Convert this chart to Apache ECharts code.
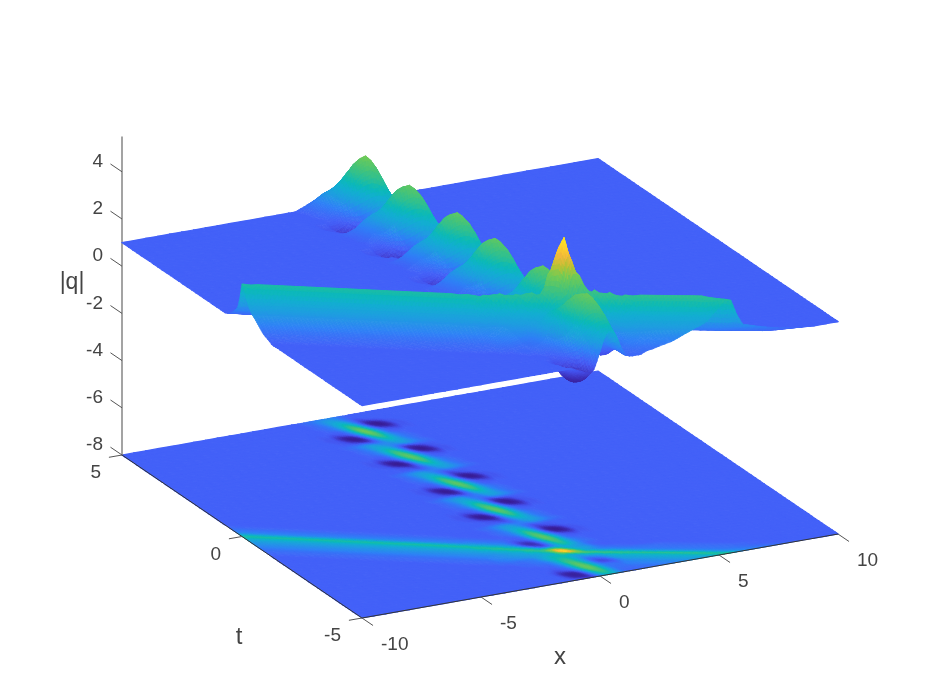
<!DOCTYPE html>
<html>
<head>
<meta charset="utf-8">
<style>html,body{margin:0;padding:0;background:#fff}#c{width:926px;height:695px}</style>
<script src="https://cdn.jsdelivr.net/npm/echarts@6/dist/echarts.min.js"></script>
</head>
<body>
<div id="c"></div>
<script>
// sample positions of the surface
const xValues = [-10,-9.5,-9,-8.5,-8,-7.5,-7,-6.5,-6,-5.5,-5,-4.5,-4,-3.5,-3,-2.75,-2.5,-2.25,-2,-1.75,-1.5,-1.25,-1,-0.75,-0.5,-0.25,0,0.25,0.5,0.75,1,1.25,1.5,1.75,2,2.5,3,3.5,4,4.5,5,5.5,6,7,8,9,10];
const tValues = [5,4.9,4.725,4.55,4.375,4.2,4.025,3.85,3.675,3.5,3.325,3.15,2.975,2.8,2.625,2.45,2.275,2.1,1.925,1.75,1.575,1.4,1.225,1.05,0.875,0.7,0.525,0.35,0.175,0,-0.175,-0.35,-0.525,-0.7,-0.875,-1.05,-1.225,-1.4,-1.575,-1.75,-1.925,-2.1,-2.275,-2.45,-2.625,-2.8,-2.975,-3.15,-3.325,-3.5,-3.64,-3.78,-3.92,-4.06,-4.2,-4.34,-4.48,-4.62,-4.76,-4.9,-5];
// |q|, in tenths. The flat plane is qPlane; each row lists runs [first column, values...] that differ from it.
const qPlane = 10;
const qRows = [
[[16,11,12,13,14,15,15,13,11]],
[[16,11,12,14,16,17,16,13,11]],
[[16,10,11,13,16,19,20,16,12,9]],
[[16,10,11,12,14,19,24,23,15,8,6,8,9]],
[[16,10,10,11,13,17,25,30,22,11,3,1,4,8,9]],
[[16,10,10,10,10,13,22,33,32,19,9,3,2,5,9,9]],
[[16,9,9,7,8,10,16,29,37,29,16,10,8,7,9,9]],
[[16,9,9,5,2,3,9,19,32,33,22,13]],
[[16,10,9,8,4,1,3,11,22,30,25,17,13,11]],
[[16,10,10,10,9,8,6,8,15,23,24,19,14,12,11]],
[[17,11,12,14,16,17,15,15,17,20,19,16,13,11]],
[[18,11,13,16,19,20,17,15,15,17,16,14,12,11]],
[[17,10,11,12,14,19,24,23,15,8,6,8,9]],
[[17,10,10,11,13,17,25,30,22,11,3,1,4,8,9]],
[[17,10,10,10,10,13,22,32,31,19,9,3,2,5,9,9]],
[[17,9,9,7,8,10,16,28,35,28,16,10,8,7,9,9]],
[[17,9,9,5,2,3,9,19,31,32,22,13]],
[[17,10,9,8,4,1,3,11,22,30,25,17,13,11]],
[[17,10,10,10,9,8,6,8,15,23,24,19,14,12,11]],
[[17,10,10,10,10,10,10,9,12,16,20,19,16,13,11]],
[[18,11,12,14,16,17,16,14,14,16,17,16,14,12,11]],
[[18,10,11,13,16,19,20,16,12,9]],
[[18,10,11,12,14,19,24,23,15,8,6,8,9]],
[[18,10,10,11,13,17,25,30,22,11,3,1,4,8,9]],
[[18,10,10,10,10,13,22,32,31,19,9,3,2,5,9,9]],
[[18,9,9,7,8,10,16,28,35,28,16,10,8,7,9,9]],
[[0,11],[18,9,9,5,2,3,9,19,31,32,22,13]],
[[0,13,11],[18,10,9,8,4,1,3,11,22,30,25,17,13,11]],
[[0,16,13,11],[18,10,10,10,9,8,6,8,15,23,24,19,14,12,11]],
[[0,27,16,13,11],[18,11,12,14,16,17,16,12,13,16,20,19,16,13,11]],
[[0,22,27,16,13,11],[19,11,13,16,19,20,16,13,12,16,17,16,14,12,11]],
[[0,18,22,27,16,13,11],[18,10,11,12,14,19,24,23,15,8,6,8,9]],
[[0,16,18,22,27,16,13,11],[18,10,10,11,13,17,25,30,22,11,3,1,4,8,9]],
[[0,14,16,18,22,27,16,13,11],[18,10,10,10,10,13,22,32,31,19,9,3,2,5,9,9]],
[[0,12,14,16,18,22,27,16,13,11],[18,9,9,7,8,10,16,28,35,28,16,10,8,7,9,9]],
[[0,11,12,14,16,18,22,27,16,13,11],[18,9,9,5,2,3,9,19,31,32,22,13]],
[[1,11,12,14,16,18,22,27,16,13,11],[18,10,9,8,4,1,3,11,22,30,25,17,13,11]],
[[2,11,12,14,16,18,22,27,16,13,11],[18,10,10,10,9,8,6,8,15,23,24,19,14,12,11]],
[[3,11,12,14,16,18,22,27,16,13,11],[18,10,10,10,10,10,10,9,12,16,20,19,16,13,11]],
[[4,11,12,14,16,18,22,27,16,13,11],[19,11,12,14,16,17,16,14,14,16,17,16,14,12,11]],
[[5,11,12,14,16,18,22,27,16,13,11],[19,10,11,13,16,19,20,16,12,9]],
[[6,11,12,14,16,18,22,27,16,13,12,11],[19,10,11,12,14,19,24,23,15,8,6,8,9]],
[[7,11,12,14,16,18,22,27,16,15,13,12,11],[19,10,10,11,13,17,25,30,22,11,3,1,4,8,9]],
[[8,11,12,14,16,18,22,27,21,17,15,13,12,11,10,10,13,22,32,31,19,9,3,2,5,9,9]],
[[9,11,12,14,16,18,22,27,27,21,17,15,12,9,9,10,16,28,35,28,16,10,8,7,9,9]],
[[10,11,12,14,16,18,21,23,28,28,21,16,10,5,5,10,19,31,32,22,13]],
[[11,11,12,14,16,17,18,21,23,28,28,20,11,6,6,13,23,30,25,17,13,11]],
[[12,11,12,14,15,16,17,19,21,23,29,29,20,13,13,18,25,25,19,14,12,11]],
[[13,11,12,14,15,16,17,18,19,22,24,29,37,41,33,22,20,17,15,11]],
[[14,11,12,13,14,15,16,17,18,20,22,25,40,53,40,26,20,18,14,11]],
[[15,11,11,12,12,13,14,17,21,24,24,28,30,38,37,24,18,15,13,12,11]],
[[17,11,11,12,13,15,20,24,26,25,22,20,26,31,31,23,17,15,13,11]],
[[18,11,11,12,13,16,23,28,28,22,17,17,19,22,30,30,23,17,13,12,11]],
[[20,11,11,14,20,29,31,24,16,11,13,16,20,23,29,29,17,13,12,11]],
[[22,12,16,26,34,29,19,10,8,10,16,20,21,23,29,17,13,12,11]],
[[21,9,10,13,22,33,34,24,14,8,8,11,16,19,20,23,29,17,13,12,11]],
[[20,9,7,8,10,16,29,36,30,18,13,12,11,14,16,17,20,23,29,17,13,12,11]],
[[20,9,5,3,4,10,21,33,32,22,14,12,12,14,14,15,17,20,23,29,17,13,12,11]],
[[21,7,3,2,5,14,25,31,25,16,12,12,12,13,14,15,17,20,23,29,17,13,12]],
[[21,9,6,4,4,10,19,27,25,17,12,11,11,12,12,14,15,17,20,23,28,17,14,11]],
[[22,9,8,7,8,15,22,23,19,13,11,11,11,12,13,14,16,18,20,25,27,16,13,11]]
];
const xTicks = [-10,-5,0,5,10];
const tTicks = [-5,0,5];
const zTicks = [-8,-6,-4,-2,0,2,4];
const floorLevel = -8;
const zTop = 5.5;
const colorValues = [0,0.4,0.8,1,1.4,1.8,2.2,2.5,2.9,3.3,3.7,4.1,4.5,4.9,5.3];
const colorHex = ['#38188a','#3c2bb0','#4450ea','#4361f8','#2f80f6','#1f9ee0','#12afd0','#0cb9b8','#30c090','#50c570','#74cb55','#b8c235','#f0b83c','#fdd02c','#fbf01a'];

const qGrid = qRows.map(function (runs) {
  const row = xValues.map(function () { return qPlane; });
  runs.forEach(function (r) { for (let k = 1; k < r.length; k++) row[r[0] + k - 1] = r[k]; });
  return row.map(function (v) { return v / 10; });
});
const nC = xValues.length, nR = tValues.length;
// the mesh between samples: a smooth triangle-mesh patch that still passes through every sample
const hex = [[1,0],[1,1],[0,1],[-1,0],[-1,-1],[0,-1]];
function Q(c, r) { return qGrid[Math.max(0, Math.min(nR - 1, r))][Math.max(0, Math.min(nC - 1, c))]; }
function edgeMid(c, r, k) {
  const d = function (i) { return hex[(i + 6) % 6]; };
  const at = function (v1, v2) { return Q(c + v1[0] + (v2 ? v2[0] : 0), r + v1[1] + (v2 ? v2[1] : 0)); };
  return 0.5 * (Q(c, r) + at(d(k))) + 0.125 * (at(d(k + 1)) + at(d(k - 1)))
    - 0.0625 * (at(d(k + 2)) + at(d(k), d(k + 1)) + at(d(k - 2)) + at(d(k), d(k - 1)));
}
const fineQ = [];
for (let r2 = 0; r2 < 2 * nR - 1; r2++) {
  const row = [];
  for (let c2 = 0; c2 < 2 * nC - 1; c2++) {
    const c = c2 >> 1, r = r2 >> 1, oc = c2 & 1, or = r2 & 1;
    row.push(!oc && !or ? Q(c, r) : oc && !or ? edgeMid(c, r, 0) : !oc && or ? edgeMid(c, r, 2) : edgeMid(c, r, 1));
  }
  fineQ.push(row);
}
function fineX(c2) { return c2 & 1 ? (xValues[c2 >> 1] + xValues[(c2 >> 1) + 1]) / 2 : xValues[c2 >> 1]; }
function fineT(r2) { return r2 & 1 ? (tValues[r2 >> 1] + tValues[(r2 >> 1) + 1]) / 2 : tValues[r2 >> 1]; }

// fixed view of the 3-D box
function project(x, t, z) {
  const u = (x + 10) / 20, v = (t + 5) / 10;
  return [362 + 476 * u - 240 * v, 618 - 84 * u - 163 * v - (z + 8) * 23.6];
}
const rgb = colorHex.map(function (h) {
  return [parseInt(h.slice(1, 3), 16), parseInt(h.slice(3, 5), 16), parseInt(h.slice(5, 7), 16)];
});
const colorCache = {};
function colorOf(q) {
  const key = Math.round(q * 40);
  if (colorCache[key]) return colorCache[key];
  const val = key / 40;
  let i = 0;
  while (i < colorValues.length - 2 && val > colorValues[i + 1]) i++;
  const f = Math.max(0, Math.min(1, (val - colorValues[i]) / (colorValues[i + 1] - colorValues[i])));
  const c = rgb[i].map(function (a, n) { return Math.round(a + (rgb[i + 1][n] - a) * f); });
  return colorCache[key] = 'rgb(' + c.join(',') + ')';
}
function addTriangle(children, api, a, b, c, flat) {
  const range = Math.max(a[2], b[2], c[2]) - Math.min(a[2], b[2], c[2]);
  const n = range < 0.07 ? 1 : range < 0.5 ? 2 : 3;
  const width = range < 0.02 ? 1.2 : 0.7;
  const pt = function (i, j) {
    const w = (n - i - j) / n, p = i / n, r = j / n;
    return [a[0] * w + b[0] * p + c[0] * r, a[1] * w + b[1] * p + c[1] * r, a[2] * w + b[2] * p + c[2] * r];
  };
  const tri = function (A, B, C) {
    const col = colorOf((A[2] + B[2] + C[2]) / 3);
    const toPx = function (P) { return api.coord(project(P[0], P[1], flat ? floorLevel : P[2])); };
    children.push({ type: 'polygon', shape: { points: [toPx(A), toPx(B), toPx(C)] },
      style: { fill: col, stroke: col, lineWidth: width, lineJoin: 'round' } });
  };
  for (let j = n - 1; j >= 0; j--) {
    for (let i = n - 1 - j; i >= 0; i--) {
      tri(pt(i, j), pt(i + 1, j), pt(i, j + 1));
      if (i + j < n - 1) tri(pt(i + 1, j), pt(i + 1, j + 1), pt(i, j + 1));
    }
  }
}
function surfaceItem(flat) {
  return function (params, api) {
    const c = api.value(0), r = api.value(1), s = api.value(2), children = [];
    const V = function (cc, rr) { return [fineX(cc), fineT(rr), fineQ[rr][cc]]; };
    addTriangle(children, api, V(c, r), V(c + s, r), V(c + s, r + s), flat);
    addTriangle(children, api, V(c, r), V(c + s, r + s), V(c, r + s), flat);
    return { type: 'group', children: children };
  };
}
function coarseFlat(c, r) {
  const base = fineQ[2 * r][2 * c];
  for (let i = 0; i <= 2; i++) for (let j = 0; j <= 2; j++) {
    if (Math.abs(fineQ[2 * r + j][2 * c + i] - base) > 0.001) return false;
  }
  return true;
}
const cells = [];
for (let r2 = 0; r2 < 2 * nR - 2; r2++) {
  for (let c2 = 2 * nC - 3; c2 >= 0; c2--) {
    if (coarseFlat(c2 >> 1, r2 >> 1)) {
      if (!(c2 & 1) && !(r2 & 1)) cells.push([c2, r2, 2]);
    } else {
      cells.push([c2, r2, 1]);
    }
  }
}
const textColor = '#444444';
const labelFont = 'Liberation Sans, Arial, sans-serif';
function axesItem(params, api) {
  const kids = [];
  const line = function (a, b, color, w) {
    const p = api.coord(a), q = api.coord(b);
    kids.push({ type: 'line', shape: { x1: p[0], y1: p[1], x2: q[0], y2: q[1] }, style: { stroke: color, lineWidth: w } });
  };
  const text = function (s, at, dx, dy, align, size) {
    const p = api.coord(at);
    kids.push({ type: 'text', style: { text: s, x: p[0] + dx, y: p[1] + dy, align: align, verticalAlign: 'middle',
      fill: textColor, fontSize: size, fontFamily: labelFont } });
  };
  line(project(-10, 5, floorLevel), project(-10, 5, zTop), '#8c8c8c', 1.6);
  line(project(-10, 5, floorLevel), project(-10, -5, floorLevel), '#333333', 1);
  line(project(-10, -5, floorLevel), project(10, -5, floorLevel), '#333333', 1);
  xTicks.forEach(function (x) {
    line(project(x, -5, floorLevel), project(x, -5.46, floorLevel), '#555555', 1);
    text(String(x), project(x, -5, floorLevel), 19, 27, 'left', 19);
  });
  tTicks.forEach(function (t) {
    line(project(-10, t, floorLevel), project(-10.55, t, floorLevel), '#555555', 1);
    text(String(t), project(-10, t, floorLevel), -21, 18, 'right', 19);
  });
  zTicks.forEach(function (z) {
    line(project(-10, 5, z), project(-10, 5.48, z), '#555555', 1);
    text(String(z), project(-10, 5, z), -19, -10, 'right', 19);
  });
  text('|q|', [72, 283], 0, 0, 'center', 23);
  text('t', [239, 637], 0, 0, 'center', 24);
  text('x', [560, 657], 0, 0, 'center', 24);
  return { type: 'group', children: kids };
}
const chart = echarts.init(document.getElementById('c'), null, { renderer: 'canvas' });
chart.setOption({
  animation: false,
  backgroundColor: '#ffffff',
  grid: { left: 0, right: 0, top: 0, bottom: 0 },
  xAxis: { type: 'value', min: 0, max: 926, show: false },
  yAxis: { type: 'value', min: 0, max: 695, inverse: true, show: false },
  series: [
    { name: 'floor map', type: 'custom', coordinateSystem: 'cartesian2d', silent: true, progressive: 0, clip: false, renderItem: surfaceItem(true), data: cells, z: 1 },
    { name: 'axes', type: 'custom', coordinateSystem: 'cartesian2d', silent: true, clip: false, renderItem: axesItem, data: [[0, 0]], z: 2 },
    { name: '|q| surface', type: 'custom', coordinateSystem: 'cartesian2d', silent: true, progressive: 0, clip: false, renderItem: surfaceItem(false), data: cells, z: 3 }
  ]
});
</script>
</body>
</html>
